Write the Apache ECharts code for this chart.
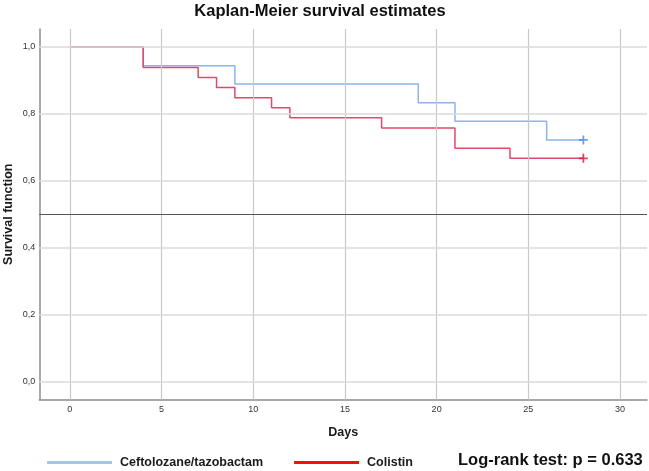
<!DOCTYPE html>
<html>
<head>
<meta charset="utf-8">
<script src="https://cdn.jsdelivr.net/npm/echarts@6/dist/echarts.min.js"></script>
<style>html,body{margin:0;padding:0;background:#fff;}#c{width:649px;height:471px;}</style>
</head>
<body>
<div id="c"></div>
<script>
// Kaplan-Meier step data: [day, survival]
var ceftoTimes = [0, 4, 9, 19, 21, 26, 28];
var ceftoSurv  = [1.0, 0.944, 0.889, 0.833, 0.778, 0.722, 0.722];
var colisTimes = [0, 4, 7, 8, 9, 11, 12, 17, 21, 24, 28];
var colisSurv  = [1.0, 0.939, 0.909, 0.879, 0.848, 0.818, 0.788, 0.758, 0.697, 0.667, 0.667];
var ceftoCensor = [[28, 0.722]];
var colisCensor = [[28, 0.667]];
var xTicks = [0, 5, 10, 15, 20, 25, 30];
var yTicks = [0, 0.2, 0.4, 0.6, 0.8, 1.0];
var referenceLine = 0.5;
var seriesNames = ['Ceftolozane/tazobactam', 'Colistin'];
var titleText = 'Kaplan-Meier survival estimates';
var noteText = 'Log-rank test: p = 0.633';

function pairs(t, s) { return t.map(function (v, i) { return [v, s[i]]; }); }

var plusPath = 'path://M4,0H6V4H10V6H6V10H4V6H0V4H4Z';
var FONT = 'Liberation Sans, Arial, sans-serif';

var gridLines = [];
xTicks.forEach(function (v) { gridLines.push({ xAxis: v, lineStyle: { color: '#c9c9c9', width: 1.2, type: 'solid' } }); });
yTicks.forEach(function (v) { gridLines.push({ yAxis: v, lineStyle: { color: '#dadada', width: 1.6, type: 'solid' } }); });

var chart = echarts.init(document.getElementById('c'), null, { renderer: 'canvas' });
chart.setOption({
  animation: false,
  backgroundColor: '#ffffff',
  title: {
    text: titleText, left: 320, top: 2.5, textAlign: 'center', padding: 0,
    textStyle: { fontFamily: FONT, fontSize: 16.5, fontWeight: 'bold', color: '#111' }
  },
  grid: { left: 39.3, right: 2, top: 29, bottom: 71.5, containLabel: false, outerBoundsMode: 'none' },
  legend: {
    left: 47, top: 455.5, padding: 0, itemGap: 31,
    itemWidth: 65, itemHeight: 3, icon: 'rect',
    textStyle: { fontFamily: FONT, fontSize: 12.5, fontWeight: 'bold', color: '#1a1a1a', padding: [0, 0, 0, 3], lineHeight: 14 },
    data: [
      { name: seriesNames[0], itemStyle: { color: '#a4c6ea' } },
      { name: seriesNames[1], itemStyle: { color: '#ff0a0a' } }
    ]
  },
  xAxis: {
    type: 'value', min: -1.663, max: 31.47,
    name: 'Days', nameLocation: 'middle', nameGap: 27, nameMoveOverlap: false,
    nameTextStyle: { fontFamily: FONT, fontSize: 12.5, fontWeight: 'bold', color: '#1a1a1a' },
    axisLine: { show: true, onZero: false, lineStyle: { color: '#8c8c8c', width: 1.5 } },
    axisTick: { show: false },
    splitLine: { show: false },
    axisLabel: { customValues: xTicks, margin: 6, fontFamily: FONT, fontSize: 9, color: '#333' }
  },
  yAxis: {
    type: 'value', min: -0.0544, max: 1.0538,
    name: 'Survival function', nameLocation: 'middle', nameGap: 24, nameRotate: 90, nameMoveOverlap: false,
    nameTextStyle: { fontFamily: FONT, fontSize: 12.5, fontWeight: 'bold', color: '#1a1a1a' },
    axisLine: { show: true, onZero: false, lineStyle: { color: '#8c8c8c', width: 1.5 } },
    axisTick: { show: false },
    splitLine: { show: false },
    axisLabel: {
      customValues: yTicks, margin: 4, fontFamily: FONT, fontSize: 9, color: '#333',
      formatter: function (v) { return v.toFixed(1).replace('.', ','); }
    }
  },
  series: [
    {
      name: 'grid', type: 'line', data: [], z: 1, silent: true,
      markLine: {
        silent: true, symbol: ['none', 'none'], label: { show: false }, animation: false,
        data: gridLines.concat([{ yAxis: referenceLine, lineStyle: { color: '#555', width: 1.2, type: 'solid' } }])
      }
    },
    {
      name: seriesNames[0], type: 'line', step: 'end', z: 3, showSymbol: false, symbol: 'none',
      data: pairs(ceftoTimes, ceftoSurv),
      lineStyle: { color: '#8ab5ea', width: 1.5 }, itemStyle: { color: '#a4c6ea' }
    },
    {
      name: seriesNames[1], type: 'line', step: 'end', z: 3, showSymbol: false, symbol: 'none',
      data: pairs(colisTimes, colisSurv),
      lineStyle: { color: '#e2486a', width: 1.5 }, itemStyle: { color: '#ff0a0a' }
    },
    {
      name: 'cefto-censor', type: 'scatter', z: 4, symbol: plusPath, symbolSize: 9,
      data: ceftoCensor, itemStyle: { color: '#4d88d8' }
    },
    {
      name: 'colis-censor', type: 'scatter', z: 4, symbol: plusPath, symbolSize: 9,
      data: colisCensor, itemStyle: { color: '#d3163e' }
    }
  ],
  graphic: [
    {
      type: 'text', left: 458, top: 452, z: 10,
      style: { text: noteText, fontFamily: FONT, fontSize: 16.5, fontWeight: 'bold', fill: '#111' }
    }
  ]
});
</script>
</body>
</html>
